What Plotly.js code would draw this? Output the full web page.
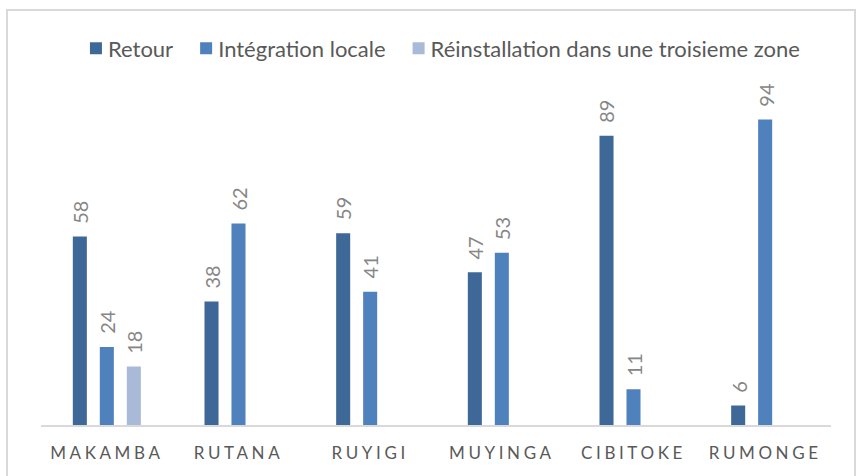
<!DOCTYPE html>
<html>
<head>
<meta charset="utf-8">
<script src="https://cdn.plot.ly/plotly-3.0.1.min.js"></script>
<style>
  html, body { margin: 0; padding: 0; background: #fff; }
  #wrap { position: relative; width: 863px; height: 476px; overflow: hidden; }
  #chart { width: 863px; height: 476px; }
  #frame { position: absolute; left: 6px; top: 9px; width: 850px; height: 500px;
           border: 2px solid #d9d9d9; box-sizing: border-box; pointer-events: none; }
  .xtick text { letter-spacing: 3.6px; }
  .legendtext { transform: translateX(-8px); }
</style>
</head>
<body>
<div id="wrap">
  <div id="chart"></div>
  <div id="frame"></div>
</div>
<script>
const categories = ["MAKAMBA", "RUTANA", "RUYIGI", "MUYINGA", "CIBITOKE", "RUMONGE"];
const seriesNames = ["Retour", "Intégration locale", "Réinstallation dans une troisieme zone"];
const retour = [58, 38, 59, 47, 89, 6];
const integrationLocale = [24, 62, 41, 53, 11, 94];
const reinstallation = [18, null, null, null, null, null];
const seriesColors = ["#3e6898", "#4f81bd", "#a9bad8"];

const allSeries = [retour, integrationLocale, reinstallation];
const FONT = "Lato, 'Liberation Sans', sans-serif";
const BARGAP = 0.385;
const nSeries = allSeries.length;
const slot = (1 - BARGAP) / nSeries;

const traces = allSeries.map((vals, i) => ({
  type: "bar",
  name: seriesNames[i],
  x: categories,
  y: vals,
  marker: { color: seriesColors[i] },
  hoverinfo: "x+y+name"
}));

const annotations = [];
allSeries.forEach((vals, i) => {
  vals.forEach((v, j) => {
    if (v === null) return;
    annotations.push({
      x: j + (i - (nSeries - 1) / 2) * slot,
      y: v,
      xref: "x", yref: "y",
      text: String(v),
      textangle: -90,
      showarrow: false,
      xanchor: "center",
      yanchor: "bottom",
      yshift: 11,
      font: { family: FONT, size: 20, color: "#868686" }
    });
  });
});

const layout = {
  width: 863, height: 476,
  margin: { l: 41, r: 32, t: 100, b: 51 },
  paper_bgcolor: "rgba(0,0,0,0)",
  plot_bgcolor: "rgba(0,0,0,0)",
  barmode: "group",
  bargap: BARGAP,
  bargroupgap: 0.48,
  font: { family: FONT, color: "#595959" },
  showlegend: true,
  legend: {
    orientation: "h",
    xref: "container", yref: "container",
    x: 0.515, xanchor: "center",
    y: 0.898, yanchor: "middle",
    font: { family: FONT, size: 22, color: "#595959" },
    traceorder: "normal"
  },
  xaxis: {
    type: "category",
    showline: true, linecolor: "#d9d9d9", linewidth: 1.5,
    showgrid: false, zeroline: false, ticks: "",
    tickfont: { family: FONT, size: 17, color: "#595959" },
    ticklabelstandoff: 12,
    fixedrange: true
  },
  yaxis: {
    range: [0, 100],
    visible: false,
    showgrid: false, zeroline: false,
    fixedrange: true
  },
  annotations: annotations
};

Plotly.newPlot("chart", traces, layout, { displayModeBar: false, staticPlot: true });
</script>
</body>
</html>
